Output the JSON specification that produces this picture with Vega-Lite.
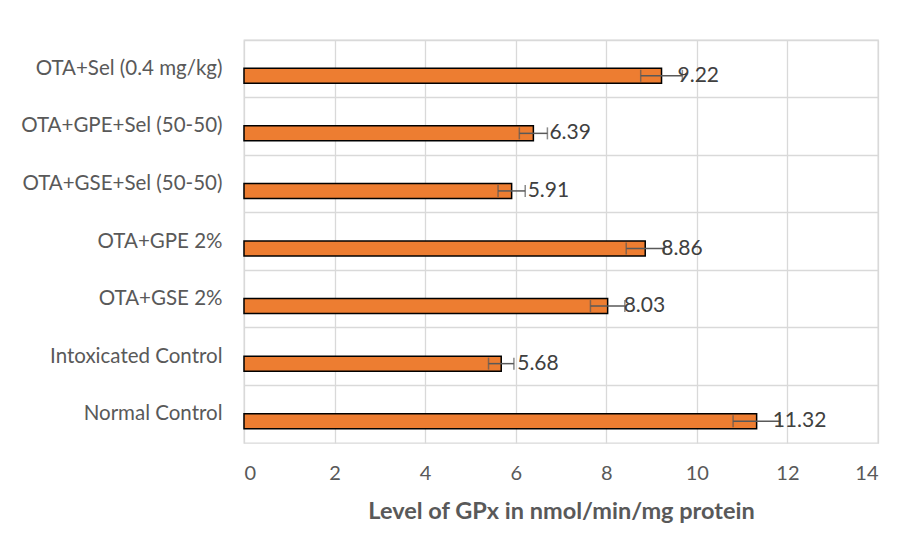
{
  "$schema": "https://vega.github.io/schema/vega-lite/v6.json",
  "autosize": {"type": "none"},
  "width": 634,
  "height": 403,
  "padding": {"left": 244, "top": 40, "right": 25, "bottom": 106},
  "background": "white",
  "config": {
    "font": "Lato",
    "view": {"stroke": "#d9d9d9", "strokeWidth": 1.3}
  },
  "data": {
    "values": [
      {"group": "OTA+Sel (0.4 mg/kg)", "value": 9.22, "lo": 8.76, "hi": 9.68},
      {"group": "OTA+GPE+Sel (50-50)", "value": 6.39, "lo": 6.08, "hi": 6.70},
      {"group": "OTA+GSE+Sel (50-50)", "value": 5.91, "lo": 5.61, "hi": 6.21},
      {"group": "OTA+GPE 2%", "value": 8.86, "lo": 8.44, "hi": 9.28},
      {"group": "OTA+GSE 2%", "value": 8.03, "lo": 7.65, "hi": 8.41},
      {"group": "Intoxicated Control", "value": 5.68, "lo": 5.40, "hi": 5.96},
      {"group": "Normal Control", "value": 11.32, "lo": 10.80, "hi": 11.84}
    ]
  },
  "encoding": {
    "y": {
      "field": "group",
      "type": "nominal",
      "sort": null,
      "scale": {"paddingInner": 0, "paddingOuter": 0},
      "axis": {
        "title": null,
        "domain": false,
        "ticks": false,
        "grid": true,
        "bandPosition": 0,
        "gridColor": "#d9d9d9",
        "gridWidth": 1.3,
        "labelFont": "Lato",
        "labelFontSize": 20.5,
        "labelColor": "#595959",
        "labelPadding": 22,
        "labelLimit": 300
      }
    }
  },
  "layer": [
    {
      "mark": {"type": "bar", "fill": "#ED7D31", "stroke": "#000000", "strokeWidth": 1.5, "size": 15, "yOffset": 7},
      "encoding": {
        "x": {
          "field": "value",
          "type": "quantitative",
          "scale": {"domain": [0, 14], "nice": false},
          "axis": {
            "values": [0, 2, 4, 6, 8, 10, 12, 14],
            "title": "Level of GPx in nmol/min/mg protein",
            "titleFont": "Lato",
            "titleFontSize": 23.5,
            "titleFontWeight": "bold",
            "titleColor": "#595959",
            "titlePadding": 16,
            "domain": false,
            "ticks": false,
            "grid": true,
            "gridColor": "#d9d9d9",
            "gridWidth": 1.3,
            "labelFont": "Lato",
            "labelFontSize": 20,
            "labelColor": "#595959",
            "labelPadding": 20
          }
        }
      }
    },
    {
      "mark": {"type": "rule", "color": "#595959", "strokeWidth": 1.5, "yOffset": 7},
      "encoding": {
        "x": {"field": "lo", "type": "quantitative"},
        "x2": {"field": "hi"}
      }
    },
    {
      "mark": {"type": "tick", "color": "#595959", "orient": "vertical", "size": 12, "thickness": 1.5, "yOffset": 7},
      "encoding": {
        "x": {"field": "lo", "type": "quantitative"}
      }
    },
    {
      "mark": {"type": "tick", "color": "#595959", "orient": "vertical", "size": 12, "thickness": 1.5, "yOffset": 7},
      "encoding": {
        "x": {"field": "hi", "type": "quantitative"}
      }
    },
    {
      "mark": {"type": "text", "align": "left", "baseline": "middle", "dx": 16, "yOffset": 7, "font": "Lato", "fontSize": 21, "color": "#404040"},
      "encoding": {
        "x": {"field": "value", "type": "quantitative"},
        "text": {"field": "value", "type": "quantitative", "format": ".2f"}
      }
    }
  ]
}
